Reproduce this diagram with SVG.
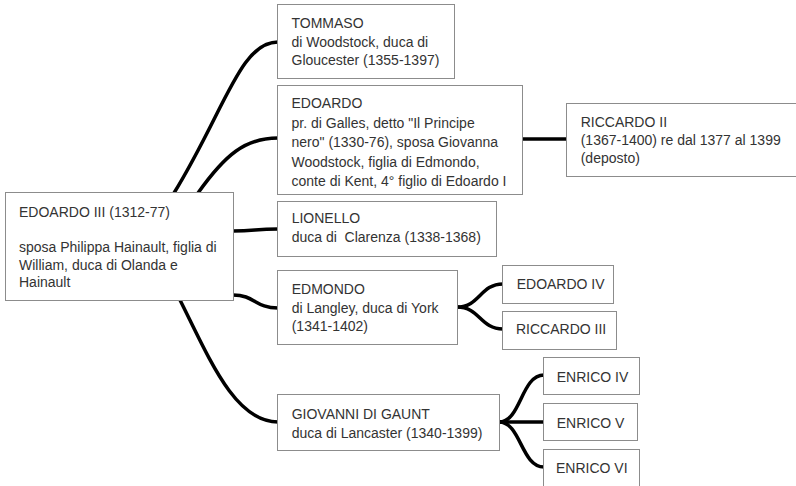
<svg xmlns="http://www.w3.org/2000/svg" width="796" height="486" viewBox="0 0 796 486">
<style>
.box{fill:#fff;stroke:#8c8c8c;stroke-width:1}
.lbl{font-family:"Liberation Sans",Arial,sans-serif;font-size:14px;fill:#333}
.conn path{fill:none;stroke:#000;stroke-width:3.5}
</style>
<rect width="796" height="486" fill="#fff"/>
<g id="connectors" class="conn">
<path d="M174,193 C225,110 240,42 278,42"/>
<path d="M198,193 C225,155 245,138 278,138"/>
<path d="M233,231 C255,231 255,229 278,229"/>
<path d="M233,295 C255,295 255,308 278,308"/>
<path d="M180,300 C210,360 235,422 278,422"/>
<path d="M522,139 L567,139"/>
<path d="M457,307 C480,307 480,284 503,284"/>
<path d="M457,307 C480,307 480,329 503,329"/>
<path d="M499,422 C521,422 521,375 544,375"/>
<path d="M499,422 L544,422"/>
<path d="M499,422 C521,422 521,467 544,467"/>
</g>
<g id="edoardo3">
<rect class="box" x="5.5" y="192.5" width="228" height="108"/>
<text class="lbl" x="19" y="217.3">EDOARDO III (1312-77)</text>
<text class="lbl" x="19" y="252">sposa Philippa Hainault, figlia di</text>
<text class="lbl" x="19" y="269.5">William, duca di Olanda e</text>
<text class="lbl" x="19" y="287">Hainault</text>
</g>
<g id="tommaso">
<rect class="box" x="277.5" y="4.5" width="177" height="74"/>
<text class="lbl" x="291.5" y="28.3">TOMMASO</text>
<text class="lbl" x="291.5" y="46.6">di Woodstock, duca di</text>
<text class="lbl" x="291.5" y="65">Gloucester (1355-1397)</text>
</g>
<g id="edoardo">
<rect class="box" x="277.5" y="85.5" width="245" height="109"/>
<text class="lbl" x="291.5" y="108.3">EDOARDO</text>
<text class="lbl" x="291.5" y="127.7">pr. di Galles, detto "Il Principe</text>
<text class="lbl" x="291.5" y="147">nero" (1330-76), sposa Giovanna</text>
<text class="lbl" x="291.5" y="166.5">Woodstock, figlia di Edmondo,</text>
<text class="lbl" x="291.5" y="186">conte di Kent, 4° figlio di Edoardo I</text>
</g>
<g id="riccardo2">
<rect class="box" x="566.5" y="103.5" width="240" height="73"/>
<text class="lbl" x="580.7" y="126.7">RICCARDO II</text>
<text class="lbl" x="580.7" y="145">(1367-1400) re dal 1377 al 1399</text>
<text class="lbl" x="580.7" y="163.3">(deposto)</text>
</g>
<g id="lionello">
<rect class="box" x="277.5" y="201.5" width="219" height="55"/>
<text class="lbl" x="291.7" y="223.3">LIONELLO</text>
<text class="lbl" x="291.7" y="241.7" xml:space="preserve">duca di  Clarenza (1338-1368)</text>
</g>
<g id="edmondo">
<rect class="box" x="277.5" y="270.5" width="180" height="74"/>
<text class="lbl" x="291.7" y="294.3">EDMONDO</text>
<text class="lbl" x="291.7" y="312.6">di Langley, duca di York</text>
<text class="lbl" x="291.7" y="330.8">(1341-1402)</text>
</g>
<g id="edoardo4">
<rect class="box" x="502.5" y="265.5" width="111" height="38"/>
<text class="lbl" x="516.7" y="289.3">EDOARDO IV</text>
</g>
<g id="riccardo3">
<rect class="box" x="502.5" y="311.5" width="114" height="38"/>
<text class="lbl" x="516" y="334">RICCARDO III</text>
</g>
<g id="giovanni">
<rect class="box" x="277.5" y="394.5" width="222" height="56"/>
<text class="lbl" x="291.7" y="419.3">GIOVANNI DI GAUNT</text>
<text class="lbl" x="291.7" y="437.7">duca di Lancaster (1340-1399)</text>
</g>
<g id="enrico4">
<rect class="box" x="543.5" y="357.5" width="96" height="37"/>
<text class="lbl" x="556.7" y="382.3">ENRICO IV</text>
</g>
<g id="enrico5">
<rect class="box" x="543.5" y="403.5" width="94" height="37"/>
<text class="lbl" x="556.7" y="427.7">ENRICO V</text>
</g>
<g id="enrico6">
<rect class="box" x="543.5" y="449.5" width="96" height="45"/>
<text class="lbl" x="556" y="473.3">ENRICO VI</text>
</g>
</svg>
